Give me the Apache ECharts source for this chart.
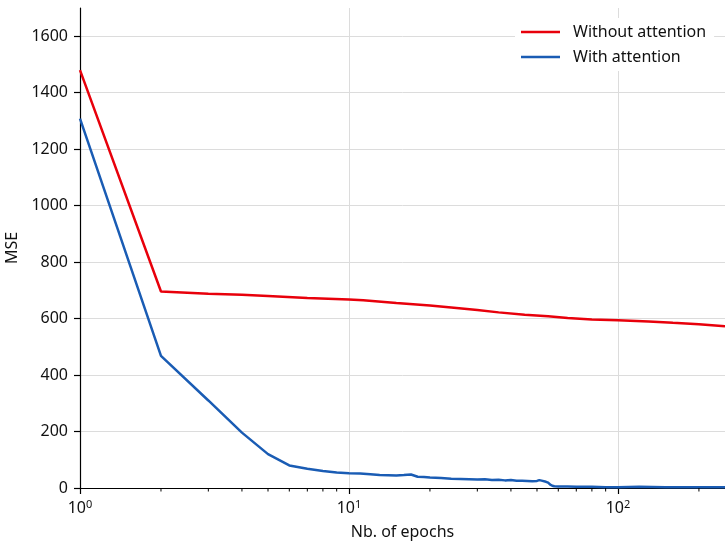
<!DOCTYPE html>
<html>
<head>
<meta charset="utf-8">
<script src="https://cdn.jsdelivr.net/npm/echarts@6/dist/echarts.min.js"></script>
<style>html,body{margin:0;padding:0;background:#fff}#c{width:725px;height:542px}</style>
</head>
<body>
<div id="c"></div>
<script>
const seriesNames = ['Without attention', 'With attention'];
const redEpochs = [1, 2, 3, 4, 5, 7, 10, 11.3, 15, 20, 24, 30, 36, 45, 55, 65, 80, 100, 130, 160, 200, 250];
const redMse = [1480, 696, 688, 684, 680, 673, 668, 665, 655, 646, 639, 630, 622, 614, 608, 602, 597, 594, 590, 585, 580, 573];
const blueEpochs = [1, 2, 3, 4, 5, 6, 7, 8, 9, 10, 11, 12, 13, 14, 15, 16, 17, 18, 19, 20, 22, 24, 26, 28, 30, 32, 34, 36, 38, 40, 42, 44, 46, 48, 50, 51, 52, 54, 55, 56, 57, 58, 60, 65, 70, 80, 90, 100, 120, 150, 200, 250];
const blueMse = [1308, 468, 310, 196, 120, 80, 68, 60, 55, 52, 51, 49, 46, 45, 44, 46, 48, 40, 39, 37, 35, 33, 32, 31, 30, 31, 28, 29, 27, 28, 26, 26, 25, 24, 25, 28, 26, 22, 19, 12, 8, 6, 5, 5, 4, 4, 3, 3, 4, 3, 3, 3];
const yTicks = [0, 200, 400, 600, 800, 1000, 1200, 1400, 1600];
const xMajorTicks = [1, 10, 100];
const xMinorTicks = [2, 3, 4, 5, 6, 7, 8, 9, 20, 30, 40, 50, 60, 70, 80, 90, 200];
const xLabelExponents = {1: '0', 10: '1', 100: '2'};

const FONT = 'Noto Sans';
const chart = echarts.init(document.getElementById('c'));
const pair = (xs, ys) => xs.map((x, i) => [x, ys[i]]);

chart.setOption({
  animation: false,
  backgroundColor: '#fff',
  textStyle: {fontFamily: FONT},
  grid: {left: 80, right: 0, top: 8, bottom: 54, containLabel: false, outerBoundsMode: 'none'},
  legend: {
    orient: 'vertical',
    left: 515, top: 18,
    backgroundColor: '#fff',
    padding: [6, 8, 6, 6],
    itemWidth: 39, itemHeight: 2.5, itemGap: 9,
    icon: 'rect',
    textStyle: {fontFamily: FONT, fontSize: 16, color: '#111', padding: [0, 0, 0, 8]},
    data: seriesNames
  },
  xAxis: {
    type: 'log', logBase: 10, min: 1, max: 250,
    name: 'Nb. of epochs', nameLocation: 'middle', nameGap: 36,
    nameTextStyle: {fontFamily: FONT, fontSize: 16, color: '#111'},
    axisLine: {lineStyle: {color: '#000', width: 1.2}},
    axisTick: {show: true, inside: false, length: 6, customValues: xMajorTicks, lineStyle: {color: '#000', width: 1.2}},
    axisLabel: {
      customValues: xMajorTicks, margin: 11,
      formatter: v => '{b|10}{s|' + (xLabelExponents[Math.round(v)] || '') + '}',
      rich: {
        b: {fontFamily: FONT, fontSize: 16, color: '#111'},
        s: {fontFamily: FONT, fontSize: 11, color: '#111', padding: [0, 0, 8, 0]}
      }
    },
    splitLine: {show: true, lineStyle: {color: '#dcdcdc', width: 1}},
    minorTick: {show: false}
  },
  yAxis: {
    type: 'value', min: 0, max: 1700,
    name: 'MSE', nameLocation: 'middle', nameGap: 50,
    nameTextStyle: {fontFamily: FONT, fontSize: 16, color: '#111'},
    axisLine: {show: true, lineStyle: {color: '#000', width: 1.2}},
    axisTick: {show: true, inside: false, length: 6, customValues: yTicks, lineStyle: {color: '#000', width: 1.2}},
    axisLabel: {customValues: yTicks, margin: 12, fontFamily: FONT, fontSize: 16, color: '#111', formatter: v => String(v)},
    splitLine: {show: true, lineStyle: {color: '#dcdcdc', width: 1}}
  },
  series: [{
    name: seriesNames[0], type: 'line',
    data: pair(redEpochs, redMse), showSymbol: false, symbol: 'none',
    lineStyle: {color: '#e8000b', width: 2.5}, itemStyle: {color: '#e8000b'}, z: 3
  }, {
    name: seriesNames[1], type: 'line',
    data: pair(blueEpochs, blueMse), showSymbol: false, symbol: 'none',
    lineStyle: {color: '#1a5cb4', width: 2.5}, itemStyle: {color: '#1a5cb4'}, z: 3
  }, {
    name: 'minorTicks', type: 'custom', clip: false, silent: true, z: 4,
    data: xMinorTicks.map(v => [v, 0]),
    renderItem: (params, api) => {
      const p = api.coord([api.value(0), 0]);
      return {type: 'line', shape: {x1: p[0], y1: p[1], x2: p[0], y2: p[1] + 3.5},
              style: {stroke: '#000', lineWidth: 1}};
    }
  }]
});
</script>
</body>
</html>
